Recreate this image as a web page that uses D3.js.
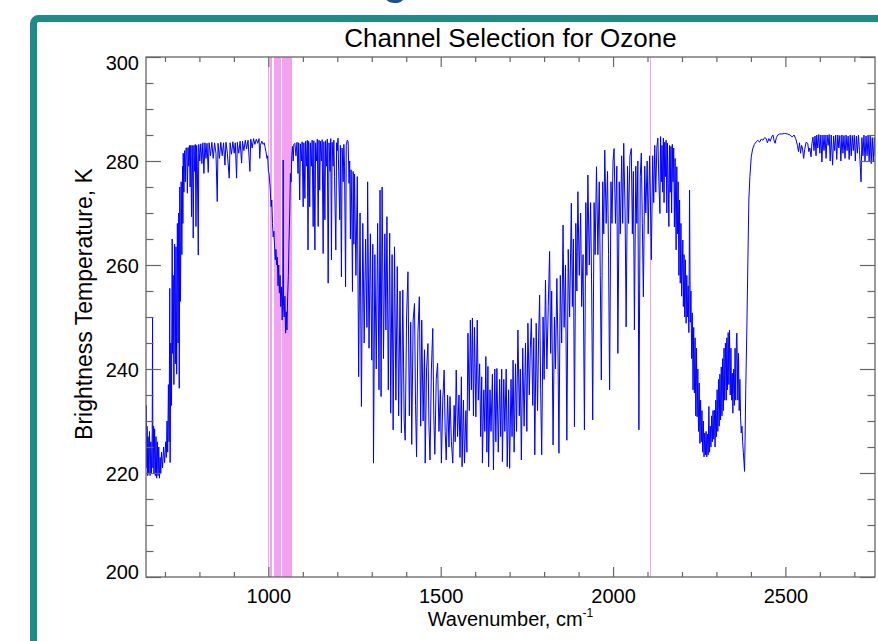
<!DOCTYPE html>
<html><head><meta charset="utf-8">
<script src="https://cdn.jsdelivr.net/npm/d3@7"></script>
<style>html,body{margin:0;padding:0;background:#fff;overflow:hidden}</style>
</head><body>
<svg id="chart" width="878" height="641"></svg>
<script>
// ---- DATA: [wavenumber (cm-1), brightness temperature (K)] ----
const co2Band = [[645,222],[646,233],[647,221],[648,229],[650,219.5],[651,227],[653,220],[655,228],[657,219.5],[659,226],[661,220],[663,228],[664,250],[665,221],[667,229],[668,220],[670,228.5],[672,219.5],[674,227],[676,219],[678,226],[680,219.5],[682,225],[684,219],[686,223],[688,220],[690,224],[693,221],[696,225],[699,222],[702,226],[704,223],[706,230],[708,224],[710,237],[712,226],[714,255.5],[715,222],[717,245],[719,233],[721,265],[722,243],[724,258],[726,237],[728,264],[730,241],[732,263.5],[734,239],[736,268],[738,245],[740,270],[741.5,236.3],[743,275],[745,253],[747,276],[749,262],[751,279],[752,268],[753,281.5],[755,274],[757,282],[759,276],[761,282.5]];
const windowBand = [[763,282.5],[765,273.8],[767,282.6],[769,279],[771,283],[773,275],[775,283],[777,269.3],[779,283],[781,274],[782,265.2],[784,283],[786,278],[788,283.2],[790,267.4],[792,283],[794,279],[796.7,261.9],[798,283.2],[801,280],[804,283.3],[807,279.5],[810,283.5],[813,277.6],[816,283.5],[819,280.5],[822,283.4],[825.6,277.8],[828,283.5],[832,281],[836,283.6],[840,280.5],[844,283.5],[848,281.5],[851.7,272.2],[854,283.4],[858,280.5],[862,283.6],[866,281],[870,283.5],[874,279.2],[877,283.6],[881,281.5],[886.5,276.7],[889,283.5],[893,281.3],[897,283.7],[901,281.5],[904,283.5],[907.8,276.7],[910,283.6],[914,281.5],[918,283.8],[922.4,279.6],[925,283.8],[929,282],[933,284],[937,282.3],[941,284],[946.5,278],[949,284.2],[953,282.5],[957,284.3],[961,283.2],[965,284.2],[969,283.4],[973,284.3],[975,280.5],[977,283],[981,283.8],[985,283.2],[988,283.5],[990,282.8],[993,281.8],[996,280.5],[998,281],[1000,278]];
const ozoneBand = [[1002,277.6],[1005,275],[1008,271.2],[1010,272.5],[1012,268],[1014,265.4],[1016,266.5],[1018,263.5],[1020,261],[1022,263],[1024,260],[1026,261.5],[1028,256],[1030,260],[1032,254.6],[1034,258],[1036,252],[1038,255.8],[1040,249.4],[1042,256],[1043,280.2],[1044,252],[1046,250],[1048,254],[1050,246.9],[1052,251],[1054,247.5],[1056,254],[1058,258],[1060,264.8],[1062,270],[1064,277.6],[1066,276],[1068,281],[1070,282.8],[1072,280],[1074,283.2]];
const secondWindow = [[1077,283.4],[1080,281],[1083,283.6],[1086,277.6],[1088,283.5],[1091,272.5],[1093,283.3],[1096,280],[1098,283.7],[1101,271.2],[1103,283.5],[1106,272.8],[1108,283.8],[1111,279],[1113,284],[1115,262.9],[1117,283.8],[1120,271.2],[1122,283.5],[1125,279],[1127,284],[1130,267.4],[1132,283.9],[1135,262.9],[1137,283.5],[1140,280],[1142,284.2],[1144.5,267.4],[1147,284],[1149,274.4],[1151,283.8],[1154,280],[1156,284.1],[1159,262.2],[1161,283.7],[1164,268.7],[1166,283.9],[1169,279],[1171,284.2],[1173.5,256.5],[1176,283.5],[1179,278],[1181,284.3],[1183,261],[1185,283.6],[1188,279],[1190,284],[1192,277],[1195.7,262.9],[1198,283.5],[1200,282],[1202,284.4],[1204,278],[1207,268.7],[1209,283],[1212,257.7],[1214,282.5],[1217,276],[1219,283.2],[1221,279],[1224,255.8],[1226,283],[1229,284],[1231.5,283.7],[1234,275.7],[1236,280],[1238,265],[1240,278.3],[1242,270],[1244,254.9],[1246,278],[1248,264]];
const waterBandLow = [[1250,277.5],[1254,258],[1258,277],[1262,238.5],[1266,270],[1270,232.8],[1274,268],[1278,245],[1282,265],[1286,248],[1288,276],[1292,244],[1296,266],[1300,241.7],[1303,264],[1305,221.9],[1309,262],[1313,240],[1317,268],[1321,236],[1324,274.4],[1327,234.7],[1330,275],[1334,242],[1338,266],[1341,247.5],[1344,269.3],[1348,236],[1352,266.1],[1355,231.5],[1359,262],[1362,228.3],[1366,263.5],[1370,234],[1374,259.7],[1378,231],[1382,255],[1386,227.7],[1390,255.2],[1394,230],[1397,226.3],[1401,250],[1405,258.7],[1409,231],[1413,249],[1416,225.5],[1420,249.4],[1424,252.6],[1427,233],[1430,223.1],[1434,247],[1438,253.9],[1442,229],[1445,249.4],[1449,230],[1453,243.7],[1455,221.9],[1459,240],[1463,244.9],[1466,229],[1469,222.5],[1473,240],[1477,247.8],[1480,231],[1483,223.6],[1487,238],[1491,241.1],[1495,228],[1499,236],[1502,221.9],[1506,234],[1510,239.8],[1513,228],[1516,222.5],[1520,235],[1524,225],[1527,234.7],[1531,226],[1535,221.9],[1539,233],[1542,226],[1545,239.8],[1549,227],[1553,235],[1556,223],[1560,238.5],[1562,221.2],[1566,234],[1569,221.9],[1573,232],[1576,224],[1579,246.9],[1583,232],[1586,249.4],[1589,236],[1592,249.8],[1595,231],[1598,248],[1602,230.8],[1606,249.4],[1609,234]];
const waterBandMid = [[1613,241],[1616,227],[1619,238.5],[1621,221.9],[1625,236],[1628,228],[1631,242.4],[1634,224],[1637,240.5],[1639,221.2],[1643,236],[1646,228],[1650,239],[1653,220.6],[1657,240],[1660,226],[1663,240.1],[1667,224],[1671,238],[1674,227],[1677,240],[1679,222.2],[1683,238],[1686,228],[1690,240],[1693,221.2],[1697,236],[1700,220.9],[1704,238],[1707,227],[1710,241.7],[1713,224],[1717,241],[1720,228],[1724,247.5],[1728,231],[1731,240],[1734,222.5],[1738,244],[1742,229],[1746,245],[1750,228],[1753,248.8],[1757,235],[1760,244],[1763,249.7],[1767,233],[1770,246],[1773,223.5],[1777,248.8],[1781,232],[1784,246],[1787,254.2],[1790,236],[1793,223.5],[1797,250],[1800,238],[1804,257.1]];
const waterBandHigh = [[1808,240],[1812,252],[1816,262.6],[1819,243],[1822,255],[1826,225.4],[1830,250],[1833,240],[1837,257.4],[1840,245],[1843,223.8],[1847,258],[1851,245],[1855,267.7],[1858,248],[1862,260],[1866,226.3],[1870,263],[1874,250],[1879,271.9],[1882,252],[1885,265],[1888,228.9],[1892,268],[1895,255],[1898,274.1],[1902,258],[1906,270],[1909,252],[1913,262],[1917,228.3],[1921,272],[1924,258],[1927,277.3],[1931,260],[1935,272],[1938,255],[1941,230.2],[1945,272],[1948,262],[1952,278.9],[1956,262],[1960,276],[1963,258],[1966,237.9],[1970,276],[1973,266],[1976,282.1],[1980,268],[1984,278],[1987,262],[1990,236],[1994,276],[1997,268],[2000,280],[2003,282.4]];
const coBand = [[2007,268],[2011,279],[2014,243],[2018,276],[2021,266],[2025,281],[2028,268],[2031,283.4],[2035,270],[2038,248.1],[2042,279],[2045,268],[2049,281],[2053,282.4],[2056,266],[2059,278],[2062,247.5],[2066,279],[2069,268],[2072,280],[2075,228.3],[2079,277],[2082,281.5],[2085,268],[2088,253.9],[2092,279],[2095,270],[2099,280],[2102,266],[2106,281],[2109,270],[2111,261],[2115,281],[2118,272],[2121,283],[2124,274],[2127,282.5],[2130,284.4],[2133,276]];
const n2oCo2Band = [[2136,269.9],[2138,284.7],[2140,276],[2142,283],[2144,274],[2146,284.4],[2148,272],[2150,283.6],[2152,277],[2154,284],[2156,270],[2158,283.4],[2160,275.7],[2162,267.4],[2164,283],[2166,274],[2168,282.8],[2170,270],[2172,283.2],[2174,276],[2176,282.5],[2178,267.3],[2180,280.5],[2183,262.9],[2185,278.9],[2187,266],[2189,276],[2191,258],[2193,272.5],[2195,256.5],[2197,268],[2199,254],[2202.5,264.8],[2204,252],[2206,262],[2208,250],[2210,261],[2212,248.8],[2214,258],[2216,250],[2218,256],[2220,247],[2222,274.4],[2224,249],[2226,255],[2228,242],[2230,250.8],[2232,236],[2234,248],[2236,235.4],[2238,246],[2240,231],[2242,244],[2244,230.8],[2246,240],[2248,228],[2250,237.3],[2252,225.7],[2254,234],[2256,226],[2258,232],[2260,224],[2262,230],[2264,223.1],[2266,227.7],[2268,223.5],[2270,228],[2272,223.1],[2274,227.5],[2276,223.5],[2278,232.8],[2280,224],[2282,229],[2284,225],[2286,231],[2288,226],[2290,232],[2292,226.5],[2294,232.1],[2296,225],[2298,234],[2300,227],[2302,236],[2304,228],[2306,238],[2308,229],[2310,239],[2312,230.2],[2314,240.4],[2316,231],[2318,242],[2320,232],[2322,244],[2324,234],[2326,245],[2328.5,234],[2330,246],[2332,236],[2334,247],[2336,237],[2338,247.5],[2340,235],[2342,244],[2344,234],[2346,239.2],[2347.6,231.5],[2350,240],[2352,233],[2354,244],[2356,234],[2358,246],[2359.4,246.9],[2362,234],[2364,243],[2366,232],[2368,238],[2370,230.8],[2372,227.7],[2374,229],[2376,226],[2378,224],[2380,222],[2381.5,220.3],[2383,226],[2385,236],[2388,246.9],[2391,260],[2394,272.5],[2397,277],[2401,280.8],[2405,282.3],[2410,283.2],[2415.6,283.7]];
const shortwaveBand = [[2420,284],[2425,283.6],[2430,284.2],[2435,284],[2440,284.5],[2444.5,284.3],[2448,283.5],[2452,284.3],[2456,283.8],[2460,284.6],[2464,285],[2467,284],[2470,283.4],[2474,284.5],[2478,285],[2483,285.2],[2490,285.2],[2498,285.3],[2506,285.2],[2514,285],[2520,284.6],[2525,285],[2530,284.3],[2535,283],[2538,281.8],[2541,283.5],[2544,281.5],[2547,283],[2550,282.3],[2553,280.5],[2556,282.2],[2560,283.6],[2564.8,283.4],[2568,281.8],[2571,282.5],[2574.5,280.8],[2577,283.4],[2580,284.6],[2583,282],[2586,284.8],[2589,281],[2591,285],[2594,282.5],[2597,285.1],[2600,281.5],[2603,285],[2606,279.8],[2609,285],[2612,282],[2615,285],[2618,280.5],[2621,285],[2624,283],[2627,285.1],[2630,280],[2633,285],[2637,279.2],[2640,284.8],[2643,282],[2646,285],[2649,280.3],[2652,285],[2655,282.5],[2658,284.9],[2661,280],[2664,285],[2667,281.5],[2670,284.9],[2673,280.5],[2676,285],[2679,282],[2682,284.8],[2685,280.3],[2688,285],[2691,281],[2694,284.9],[2697,282],[2700,285],[2703,280],[2706,284.8],[2709,281.5],[2712,285],[2715,282],[2719.5,276],[2722,284.5],[2725,281],[2728,285],[2731,279.8],[2734,284.8],[2737,281],[2740,285],[2743,280],[2746,284.8],[2749,279.5],[2752,284.5],[2755,280],[2758,284.5],[2760,281]];

// selected ozone channels (wavenumber, cm-1)
const selectedChannels = [1000.2,1004.5,1008.9,1016.1,1019,1021.9,1024.8,1027.7,1030.6,1033.5,1039.3,1042.2,1045.1,1048,1050.9,1053.8,1056.7,1059.6,1062.5,1065.4,2106];

const xMajorTicks = [1000,1500,2000,2500];
const xMinorTicks = [700,800,900,1100,1200,1300,1400,1600,1700,1800,1900,2100,2200,2300,2400,2600,2700];
const yMajorTicks = [200,220,240,260,280,300];
const yMinorTicks = [205,210,215,225,230,235,245,250,255,265,270,275,285,290,295];

const titleText = "Channel Selection for Ozone";
const xLabel = "Wavenumber, cm";
const xLabelSup = "-1";
const yLabel = "Brightness Temperature, K";

// ---- CHART ----
const svg = d3.select('#chart');
const FONT = "'Liberation Sans', Arial, Helvetica, sans-serif";
const P = {left:146, right:875, top:57, bottom:577};
const x = d3.scaleLinear().domain([645,2760]).range([P.left,P.right]);
const y = d3.scaleLinear().domain([200,300]).range([P.bottom,P.top]);

// slide frame
svg.append('rect').attr('x',33.5).attr('y',18.5).attr('width',900).attr('height',700).attr('rx',5)
  .attr('fill','none').attr('stroke','#1f8b88').attr('stroke-width',7);
// cut-off slide heading letter
svg.append('text').attr('x',383).attr('y',-5.5).attr('font-family',FONT).attr('font-weight','bold')
  .attr('font-size',40).attr('fill','#1c4f8c').text('g');

svg.append('defs').append('clipPath').attr('id','clip').append('rect')
  .attr('x',P.left).attr('y',P.top).attr('width',P.right-P.left).attr('height',P.bottom-P.top);

const plot = svg.append('g').attr('clip-path','url(#clip)');
plot.selectAll('line.ch').data(selectedChannels).join('line').attr('class','ch')
  .attr('x1',d=>Math.round(x(d))+0.5).attr('x2',d=>Math.round(x(d))+0.5).attr('y1',P.top).attr('y2',P.bottom)
  .attr('stroke','#f2a2f0').attr('stroke-width',1).attr('shape-rendering','crispEdges');

const spectrum = [].concat(co2Band, windowBand, ozoneBand, secondWindow, waterBandLow, waterBandMid, waterBandHigh, coBand, n2oCo2Band, shortwaveBand);
plot.append('path').datum(spectrum)
  .attr('d', d3.line().x(d=>x(d[0])).y(d=>y(d[1])))
  .attr('fill','none').attr('stroke','#0000ff').attr('stroke-width',1);

// axes
const AX = '#666';
function styleAxis(g){
  g.select('.domain').remove();
  g.selectAll('line').attr('stroke',AX).attr('stroke-width',1.2);
  g.selectAll('text').attr('font-family',FONT).attr('font-size',20).attr('fill','#000');
}
svg.append('g').attr('transform',`translate(0,${P.bottom})`)
  .call(d3.axisBottom(x).tickValues(xMajorTicks).tickSize(-10).tickPadding(12).tickFormat(d3.format('d'))).call(styleAxis);
svg.append('g').attr('transform',`translate(0,${P.bottom})`)
  .call(d3.axisBottom(x).tickValues(xMinorTicks).tickSize(-5).tickFormat('')).call(styleAxis);
svg.append('g').attr('transform',`translate(0,${P.top})`)
  .call(d3.axisTop(x).tickValues(xMajorTicks).tickSize(-10).tickFormat('')).call(styleAxis);
svg.append('g').attr('transform',`translate(0,${P.top})`)
  .call(d3.axisTop(x).tickValues(xMinorTicks).tickSize(-5).tickFormat('')).call(styleAxis);

const yl = svg.append('g').attr('transform',`translate(${P.left},0)`)
  .call(d3.axisLeft(y).tickValues(yMajorTicks).tickSize(-15).tickPadding(7).tickFormat(d3.format('d'))).call(styleAxis);
yl.selectAll('.tick text').attr('dy', d => d===300 ? '0.6em' : d===200 ? '0.05em' : '0.35em');
svg.append('g').attr('transform',`translate(${P.left},0)`)
  .call(d3.axisLeft(y).tickValues(yMinorTicks).tickSize(-7.5).tickFormat('')).call(styleAxis);
svg.append('g').attr('transform',`translate(${P.right},0)`)
  .call(d3.axisRight(y).tickValues(yMajorTicks).tickSize(-15).tickFormat('')).call(styleAxis);
svg.append('g').attr('transform',`translate(${P.right},0)`)
  .call(d3.axisRight(y).tickValues(yMinorTicks).tickSize(-7.5).tickFormat('')).call(styleAxis);

// frame box
svg.append('rect').attr('x',P.left).attr('y',P.top).attr('width',P.right-P.left).attr('height',P.bottom-P.top)
  .attr('fill','none').attr('stroke',AX).attr('stroke-width',1.3);

// title and labels
svg.append('text').attr('x',(P.left+P.right)/2).attr('y',47).attr('text-anchor','middle')
  .attr('font-family',FONT).attr('font-size',26).attr('fill','#000').text(titleText);
const xt = svg.append('text').attr('x',(P.left+P.right)/2).attr('y',626).attr('text-anchor','middle')
  .attr('font-family',FONT).attr('font-size',20).attr('fill','#000');
xt.append('tspan').text(xLabel);
xt.append('tspan').attr('font-size',12).attr('dy',-9).text(xLabelSup);
svg.append('text').attr('transform','translate(92,304) rotate(-90)').attr('text-anchor','middle')
  .attr('font-family',FONT).attr('font-size',23).attr('fill','#000').text(yLabel);
</script>
</body></html>
